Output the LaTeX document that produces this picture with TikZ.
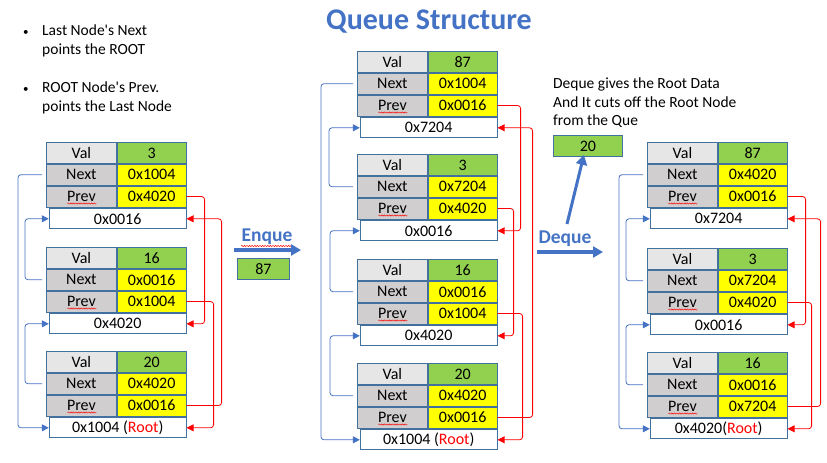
\documentclass[tikz,border=0pt]{standalone}
\usepackage{fontspec}
\setmainfont{Carlito}
\usepackage{tikz}
\usetikzlibrary{arrows.meta, positioning, decorations.pathmorphing}
\definecolor{cellborder}{RGB}{65,113,156}
\definecolor{keyfill}{RGB}{231,230,230}
\definecolor{fieldfill}{RGB}{208,206,206}
\definecolor{greenfill}{RGB}{146,208,80}
\definecolor{yellowfill}{RGB}{255,255,0}
\definecolor{linkblue}{RGB}{68,114,196}
\definecolor{linkred}{RGB}{255,0,0}
\tikzset{
  keybox/.style={
    rectangle, draw=cellborder, line width=0.8pt, fill=fieldfill,
    minimum width=70pt, minimum height=21pt, inner sep=0pt,
    font=\fontsize{16}{18}\selectfont},
  databox/.style={
    rectangle, draw=cellborder, line width=0.8pt, fill=yellowfill,
    minimum width=69pt, minimum height=21pt, inner sep=0pt,
    font=\fontsize{16}{18}\selectfont},
  addrbox/.style={
    rectangle, draw=cellborder, line width=0.8pt, fill=white,
    minimum width=137pt, minimum height=20pt, inner sep=0pt,
    font=\fontsize{16}{18}\selectfont},
  notetext/.style={
    inner sep=0pt, align=left, font=\fontsize{15.5}{18.5}\selectfont},
  optext/.style={
    inner sep=0pt, text=linkblue, font=\fontsize{19.5}{22}\selectfont\bfseries},
  nextline/.style={-{Triangle[length=7pt,width=7pt]}, line width=0.8pt,
                   color=linkblue, rounded corners=3pt, shorten <=4pt},
  prevline/.style={-{Triangle[length=7pt,width=7pt]}, line width=0.8pt,
                   color=linkred, rounded corners=3pt},
  oparrow/.style={-{Triangle[length=10pt,width=11pt]}, line width=3.5pt,
                  color=linkblue},
  squiggle/.style={linkred, line width=0.5pt, decorate,
                   decoration={snake, amplitude=0.6pt, segment length=2.6pt}}
}
% one queue node: name, x, y, val, next, prev, address
\newcommand{\queueblock}[7]{%
  \node[keybox, fill=keyfill, anchor=north west] (#1v) at (#2,#3) {Val};
  \node[databox, fill=greenfill, right=0pt of #1v] (#1vv) {#4};
  \node[keybox, below=0pt of #1v] (#1n) {Next};
  \node[databox, right=0pt of #1n] (#1nv) {#5};
  \node[keybox, below=0pt of #1n] (#1p) {Prev};
  \node[databox, right=0pt of #1p] (#1pv) {#6};
  \node[addrbox, anchor=north east] (#1a) at ([yshift=-1pt]#1pv.south east) {#7};
  \draw[squiggle] ([shift={(-14,7)}]#1p.center) -- ++(29,0);
}
\newcommand{\rootword}{\textcolor{linkred}{Root}}
\newcommand{\bulletgap}{\makebox[19pt][l]{\fontsize{11}{11}\selectfont\textbullet}}
\newcommand{\bulletskip}{\hspace{19pt}}

\begin{document}
\begin{tikzpicture}[x=1pt, y=-1pt]
  \useasboundingbox (0,0) rectangle (827,463);

  %% title and notes
  \node[optext, font=\fontsize{30}{34}\selectfont\bfseries, anchor=base]
    (title) at (429,29) {Queue Structure};
  \node[notetext, anchor=north west] (note1) at (23,25)
    {\bulletgap Last Node\textquotesingle s Next\\\bulletskip points the ROOT};
  \node[notetext, anchor=north west] (note2) at (23,82)
    {\bulletgap ROOT Node\textquotesingle s Prev.\\\bulletskip points the Last Node};

  %% left queue
  \queueblock{l1}{46}{142}{3}{0x1004}{0x4020}{0x0016}
  \queueblock{l2}{46}{247}{16}{0x0016}{0x1004}{0x4020}
  \queueblock{l3}{46}{351}{20}{0x4020}{0x0016}{0x1004 (\rootword)}

  %% middle queue
  \queueblock{m1}{357}{51}{87}{0x1004}{0x0016}{0x7204}
  \queueblock{m2}{357}{154}{3}{0x7204}{0x4020}{0x0016}
  \queueblock{m3}{357}{259}{16}{0x0016}{0x1004}{0x4020}
  \queueblock{m4}{357}{363}{20}{0x4020}{0x0016}{0x1004 (\rootword)}

  %% right queue
  \queueblock{r1}{647}{142}{87}{0x4020}{0x0016}{0x7204}
  \queueblock{r2}{647}{248}{3}{0x7204}{0x4020}{0x0016}
  \queueblock{r3}{647}{352}{16}{0x0016}{0x7204}{0x4020(\rootword)}

  %% enque
  \node[optext] (enq) at (267,237) {Enque};
  \draw[squiggle] ([shift={(-26,9)}]enq.center) -- ++(53,0);
  \coordinate (enqfrom) at (234,250);
  \coordinate (enqto) at (301,250);
  \draw[oparrow] (enqfrom) -- (enqto);
  \node[databox, fill=greenfill, minimum width=52pt, anchor=north west]
    (enqval) at (237,258) {87};

  %% deque
  \node[optext, anchor=base] (deq) at (565,243) {Deque};
  \coordinate (deqfrom) at (537,252);
  \coordinate (deqto) at (603,252);
  \draw[oparrow] (deqfrom) -- (deqto);
  \node[databox, fill=greenfill, anchor=north west] (deqval) at (553,135) {20};
  \coordinate (popfrom) at (567,224);
  \draw[oparrow, line width=3pt] (popfrom) -- ([xshift=-4pt,yshift=2pt]deqval.south);
  \node[notetext, anchor=north west] (deqnote) at (553,78)
    {Deque gives the Root Data\\And It cuts off the Root Node\\from the Que};

  %% next links
  \draw[nextline] (l1n.west) -- ++(-28,0) |- (l3a.west);
  \draw[nextline] (l2n.west) -- ++(-21,0) |- (l1a.west);
  \draw[nextline] (l3n.west) -- ++(-21,0) |- (l2a.west);
  \draw[nextline] (m1n.west) -- ++(-36,0) |- (m4a.west);
  \draw[nextline] (m2n.west) -- ++(-28,0) |- (m1a.west);
  \draw[nextline] (m3n.west) -- ++(-27,0) |- (m2a.west);
  \draw[nextline] (m4n.west) -- ++(-27,0) |- (m3a.west);
  \draw[nextline] (r1n.west) -- ++(-28,0) |- (r3a.west);
  \draw[nextline] (r2n.west) -- ++(-21,0) |- (r1a.west);
  \draw[nextline] (r3n.west) -- ++(-21,0) |- (r2a.west);

  %% prev links
  \draw[prevline] (l1pv.east) -- ++(18,0) |- (l2a.east);
  \draw[prevline] (l2pv.east) -- ++(27,0) |- (l3a.east);
  \draw[prevline] (l3pv.east) -- ++(35,0) |- (l1a.east);
  \draw[prevline] (m1pv.east) -- ++(23,0) |- (m2a.east);
  \draw[prevline] (m2pv.east) -- ++(16,0) |- (m3a.east);
  \draw[prevline] (m3pv.east) -- ++(25,0) |- (m4a.east);
  \draw[prevline] (m4pv.east) -- ++(35,0) |- (m1a.east);
  \draw[prevline] (r1pv.east) -- ++(18,0) |- (r2a.east);
  \draw[prevline] (r2pv.east) -- ++(24,0) |- (r3a.east);
  \draw[prevline] (r3pv.east) -- ++(33,0) |- (r1a.east);

\end{tikzpicture}
\end{document}
